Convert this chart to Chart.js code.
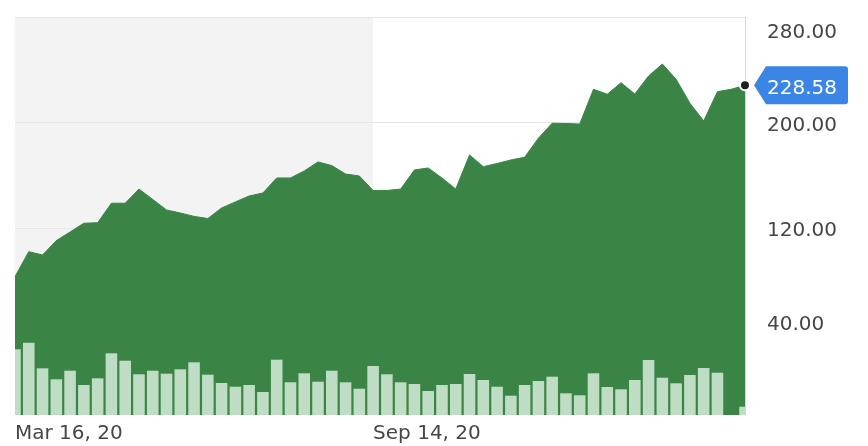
<!DOCTYPE html>
<html>
<head>
<meta charset="utf-8">
<script src="https://cdn.jsdelivr.net/npm/chart.js@4/dist/chart.umd.min.js"></script>
<style>
  html, body { margin: 0; padding: 0; background: #ffffff; }
  #wrap { width: 868px; height: 446px; }
</style>
</head>
<body>
<div id="wrap"><canvas id="c" width="868" height="446"></canvas></div>
<script>
// ---- data ----
const categories = [
  'Mar 16, 20','Mar 23, 20','Mar 30, 20','Apr 6, 20','Apr 13, 20','Apr 20, 20','Apr 27, 20',
  'May 4, 20','May 11, 20','May 18, 20','May 25, 20','Jun 1, 20','Jun 8, 20','Jun 15, 20',
  'Jun 22, 20','Jun 29, 20','Jul 6, 20','Jul 13, 20','Jul 20, 20','Jul 27, 20','Aug 3, 20',
  'Aug 10, 20','Aug 17, 20','Aug 24, 20','Aug 31, 20','Sep 7, 20','Sep 14, 20','Sep 21, 20',
  'Sep 28, 20','Oct 5, 20','Oct 12, 20','Oct 19, 20','Oct 26, 20','Nov 2, 20','Nov 9, 20',
  'Nov 16, 20','Nov 23, 20','Nov 30, 20','Dec 7, 20','Dec 14, 20','Dec 21, 20','Dec 28, 20',
  'Jan 4, 21','Jan 11, 21','Jan 18, 21','Jan 25, 21','Feb 1, 21','Feb 8, 21','Feb 15, 21',
  'Feb 22, 21','Mar 1, 21','Mar 8, 21','Mar 15, 21','Mar 22, 21'
];
const xTickLabels = ['Mar 16, 20', 'Sep 14, 20'];
const shadedRange = ['Mar 16, 20', 'Sep 14, 20'];

const priceValues = [
  83.2, 102.2, 99.7, 110.6, 117.2, 123.8, 124.2, 139.0, 139.0, 149.8,
  141.9, 133.9, 131.6, 129.0, 127.4, 135.4, 140.0, 144.5, 146.8, 158.2,
  158.2, 163.5, 170.4, 167.6, 161.2, 159.7, 148.7, 148.7, 149.8, 164.3,
  165.8, 158.2, 149.8, 175.7, 166.8, 169.2, 171.9, 173.9, 188.4, 199.8,
  199.6, 199.2, 225.6, 221.8, 230.6, 222.0, 235.7, 244.8, 233.2, 215.0,
  201.5, 223.8, 225.6, 228.58
];
const volumeValues = [
  65.7, 72.3, 46.7, 35.7, 44.3, 30.0, 36.7, 61.7, 54.3, 40.7,
  44.3, 41.3, 45.7, 52.7, 40.3, 32.0, 28.3, 30.0, 23.0, 55.3,
  32.7, 41.7, 33.3, 44.3, 32.7, 26.3, 49.0, 40.7, 32.7, 31.0,
  24.0, 30.0, 31.0, 41.0, 35.0, 28.3, 19.3, 30.0, 34.0, 38.3,
  21.7, 19.7, 41.7, 28.0, 25.7, 35.0, 55.0, 37.3, 31.7, 40.0,
  47.0, 42.3, 0, 8.3
];
const yTickValues = [40, 120, 200, 280];
const lastPrice = 228.58;

// ---- styles ----
const FONT = '"DejaVu Sans", sans-serif';
const TEXT = '#464646';
const GREEN = '#3a8546';
const VOL = '#bfdcc4';

const shadePlugin = {
  id: 'shade',
  beforeDraw(chart) {
    const {ctx, chartArea, scales} = chart;
    const x0 = scales.x.getPixelForValue(categories.indexOf(shadedRange[0]));
    const x1 = scales.x.getPixelForValue(categories.indexOf(shadedRange[1]));
    ctx.save();
    ctx.fillStyle = '#f3f3f3';
    ctx.fillRect(x0, chartArea.top, x1 - x0, chartArea.bottom - chartArea.top);
    ctx.restore();
  }
};

const tagPlugin = {
  id: 'tag',
  beforeDatasetsDraw(chart) {
    const {ctx, chartArea, scales} = chart;
    const y = scales.y.getPixelForValue(lastPrice);
    const x0 = chartArea.right;
    const tip = x0 + 9, l = x0 + 21, r = x0 + 103, h = 19, rad = 3;
    ctx.save();
    ctx.fillStyle = '#3a85e6';
    ctx.beginPath();
    ctx.moveTo(tip, y);
    ctx.lineTo(l, y - h);
    ctx.lineTo(r - rad, y - h);
    ctx.quadraticCurveTo(r, y - h, r, y - h + rad);
    ctx.lineTo(r, y + h - rad);
    ctx.quadraticCurveTo(r, y + h, r - rad, y + h);
    ctx.lineTo(l, y + h);
    ctx.closePath();
    ctx.fill();
    ctx.fillStyle = '#ffffff';
    ctx.font = '20px ' + FONT;
    ctx.textAlign = 'left';
    ctx.textBaseline = 'middle';
    ctx.fillText(lastPrice.toFixed(2), x0 + 22, y + 3);
    ctx.restore();
  }
};

const lastIdx = priceValues.length - 1;

new Chart(document.getElementById('c'), {
  data: {
    labels: categories,
    datasets: [
      {
        type: 'bar',
        data: volumeValues,
        yAxisID: 'yv',
        backgroundColor: VOL,
        borderWidth: 0,
        barPercentage: 0.84,
        categoryPercentage: 1,
        order: 0
      },
      {
        type: 'line',
        data: priceValues,
        yAxisID: 'y',
        borderColor: GREEN,
        borderWidth: 1,
        backgroundColor: GREEN,
        fill: 'start',
        tension: 0,
        clip: false,
        pointRadius: (c) => c.dataIndex === lastIdx ? 5 : 0,
        pointHoverRadius: 0,
        pointBackgroundColor: '#1f1f1f',
        pointBorderColor: '#ffffff',
        pointBorderWidth: 2,
        order: 1
      }
    ]
  },
  options: {
    responsive: false,
    animation: false,
    events: [],
    layout: { padding: { top: 17, left: 15, right: 0, bottom: 0 } },
    plugins: { legend: { display: false }, tooltip: { enabled: false } },
    scales: {
      x: {
        type: 'category',
        offset: false,
        grid: { display: false, drawTicks: false },
        border: { display: false },
        afterFit: (s) => { s.height = 31; s.paddingLeft = 0; s.paddingRight = 0; },
        ticks: {
          autoSkip: false,
          maxRotation: 0,
          minRotation: 0,
          align: 'start',
          padding: 7,
          color: TEXT,
          font: { family: FONT, size: 20 },
          callback: function (v, i) {
            const lab = categories[i];
            return xTickLabels.includes(lab) ? lab : '';
          }
        }
      },
      y: {
        position: 'right',
        min: -21.9,
        max: 280.5,
        afterBuildTicks: (s) => { s.ticks = yTickValues.map(v => ({ value: v })); },
        afterFit: (s) => { s.width = 123; s.paddingTop = 0; s.paddingBottom = 0; },
        grid: { color: '#e6e6e6', drawTicks: false, lineWidth: 1 },
        border: { display: true, color: '#d9d9d9' },
        ticks: {
          padding: 22,
          labelOffset: 3,
          color: TEXT,
          font: { family: FONT, size: 20 },
          callback: (v) => {
            const t = Number(v).toFixed(2);
            if (v === Math.max(...yTickValues)) return ['', t];
            if (v === Math.min(...yTickValues)) return [t, ''];
            return t;
          }
        }
      },
      yv: {
        display: false,
        min: 0,
        max: 398
      }
    }
  },
  plugins: [shadePlugin, tagPlugin]
});
</script>
</body>
</html>
